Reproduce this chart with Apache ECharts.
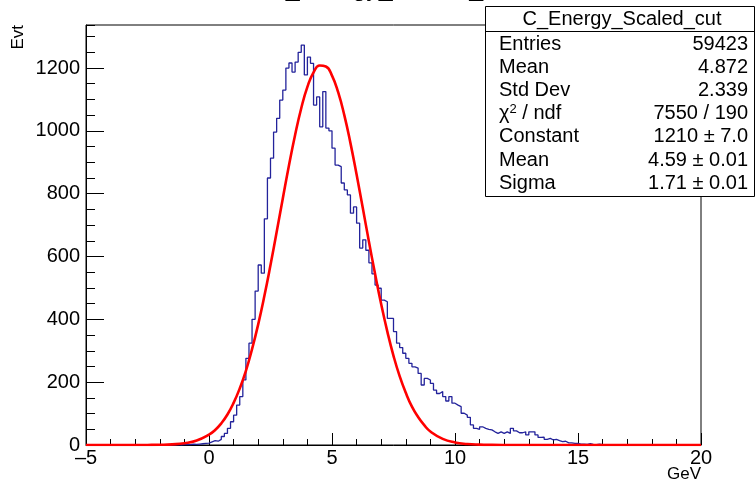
<!DOCTYPE html>
<html><head><meta charset="utf-8">
<script src="https://cdn.jsdelivr.net/npm/echarts@6/dist/echarts.min.js"></script>
<style>html,body{margin:0;padding:0;background:#fff}#c{width:756px;height:484px}</style>
</head><body><div id="c"></div>
<script>
// ---------------- data ----------------
const histTitle = 'C_Energy_Scaled_cut';
const binRange = [-5, 20];
// 200 bins, width 0.125 GeV (bin contents)
const counts = [
  0,0,0,0,0,0,0,0,0,0, 0,0,0,0,0,0,0,0,0,0,
  0,0,0,0,0,0,0,0,0,1, 0,1,2,1,3,2,3,4,5,6,
  10,14,12,18,27,37,53,74,95,127, 154,207,276,324,400,490,573,547,720,850,
  913,996,1040,1098,1130,1200,1216,1187,1219,1250, 1273,1178,1235,1215,1082,1108,1013,1125,1009,1000,
  945,891,886,834,812,796,738,758,706,627, 653,620,580,545,509,499,461,456,403,403,
  361,324,310,292,276,260,249,245,228,191, 212,207,196,175,164,170,154,140,154,133,
  127,122,101,95,88,64,53,50,58,53, 50,48,42,37,42,37,42,37,53,45,
  39,39,42,32,42,42,32,24,25,18, 21,16,18,14,11,12,7,7,5,5,
  3,3,2,4,2,1,3,1,0,1, 0,1,0,0,0,0,0,0,0,0,
  0,0,0,0,0,0,0,0,0,0, 0,0,0,0,0,0,0,0,0,0
];
// red fit curve
const fitX = [-5,-4,-3.5,-3,-2.5,-2,-1.5,-1,-0.5,0,0.25,0.5,0.75,1,1.25,1.5,1.75,2,2.25,2.5,2.75,3,3.25,3.5,3.75,4,4.25,4.5,4.75,5,5.25,5.5,5.75,6,6.25,6.5,6.75,7,7.25,7.5,7.75,8,8.25,8.5,8.75,9,9.5,10,10.5,11,11.5,12,14,17,20];
const fitY = [0,0,0.02,0.06,0.22,0.7,2.1,5.8,14.4,33,48,69,97,134,180,236,305,384,474,573,678,785,890,987,1072,1140,1186,1208,1205,1176,1123,1050,961,861,755,648,545,448,361,284,219,166,122,89,63,43,19.6,8.1,3.1,1.1,0.35,0.1,0,0,0];
const xTicks = [-5, 20, 5];      // min, max, major step
const yTicks = [0, 1337, 200, 50]; // min, max(frame top), major, minor step
const statsLabels = ['Entries','Mean','Std Dev','{a|χ}{s|2}{a| / ndf}','Constant','Mean','Sigma'];
const statsValues = ['59423','4.872','2.339','7550 / 190','1210 ± 7.0','4.59 ± 0.01','1.71 ± 0.01'];
const axisNames = ['GeV', 'Evt'];

// ---------------- chart ----------------
const FF = '"Liberation Sans", Arial, Helvetica, sans-serif';
const bw = (binRange[1] - binRange[0]) / counts.length;
const histData = counts.map((v, i) => [binRange[0] + i * bw, v]);
histData.push([binRange[1], counts[counts.length - 1]]);
const fitData = fitX.map((x, i) => [x, fitY[i]]);

const chart = echarts.init(document.getElementById('c'), null, {renderer: 'canvas'});
const statsGraphics = [];
statsGraphics.push({type:'rect', z:100, shape:{x:485.5, y:6.5, width:269, height:190},
  style:{fill:'#fff', stroke:'#000', lineWidth:1}});
statsGraphics.push({type:'line', z:101, shape:{x1:485.5, y1:31.5, x2:754.5, y2:31.5},
  style:{stroke:'#000', lineWidth:1}});
statsGraphics.push({type:'text', z:101, x:622, y:19, style:{text:histTitle, font:'20px '+FF,
  fill:'#000', align:'center', verticalAlign:'middle'}});
statsLabels.forEach((t, i) => {
  const y = 44 + i * 23.2;
  statsGraphics.push({type:'text', z:101, x:499, y:y, style:{text:t, font:'20px '+FF, fill:'#000',
    align:'left', verticalAlign:'middle',
    rich:{a:{fontSize:20, fontFamily:FF, fill:'#000', lineHeight:22},
          s:{fontSize:13, fontFamily:FF, fill:'#000', verticalAlign:'top', lineHeight:22}}}});
  statsGraphics.push({type:'text', z:101, x:748, y:y, style:{text:statsValues[i], font:'20px '+FF,
    fill:'#000', align:'right', verticalAlign:'middle'}});
});

chart.setOption({
  animation: false,
  backgroundColor: '#fff',
  grid: {left: 86, right: 55, top: 25, bottom: 39, show: true, borderColor: '#000', borderWidth: 1, backgroundColor: 'transparent'},
  xAxis: {
    type: 'value', min: xTicks[0], max: xTicks[1], interval: xTicks[2],
    axisLine: {show: true, onZero: false, lineStyle: {color: '#000', width: 1}},
    axisTick: {show: true, inside: true, length: 12, lineStyle: {color: '#000'}},
    minorTick: {show: true, splitNumber: 5, length: 6, lineStyle: {color: '#000'}},
    axisLabel: {color: '#000', fontSize: 20, fontFamily: FF, margin: 3,
      formatter: v => (v < 0 ? '\u2013' + Math.abs(v) : String(v))},
    splitLine: {show: false}
  },
  yAxis: [{
    type: 'value', min: yTicks[0], max: yTicks[1], interval: yTicks[2],
    axisLine: {show: true, onZero: false, lineStyle: {color: '#000', width: 1}},
    axisTick: {show: true, inside: true, length: 18, lineStyle: {color: '#000'}},
    axisLabel: {color: '#000', fontSize: 20, fontFamily: FF, margin: 6, showMaxLabel: false,
      formatter: v => String(v)},
    splitLine: {show: false}
  }, {
    type: 'value', min: yTicks[0], max: yTicks[1], interval: yTicks[3], position: 'left',
    axisLine: {show: false, onZero: false},
    axisTick: {show: true, inside: true, length: 9, lineStyle: {color: '#000'}},
    axisLabel: {show: false},
    splitLine: {show: false}
  }],
  series: [{
    type: 'line', data: histData, step: 'end', symbol: 'none', yAxisIndex: 0,
    lineStyle: {color: '#23239b', width: 1.3}, z: 2
  }, {
    type: 'line', data: fitData, smooth: true, symbol: 'none', yAxisIndex: 0,
    lineStyle: {color: '#ff0000', width: 2.6}, z: 3
  }],
  graphic: [
    {type:'text', z:50, x:392, y:-11, style:{text:histTitle, font:'25px '+FF, fill:'#000', align:'center', verticalAlign:'middle'}},
    {type:'text', z:50, x:701, y:474, style:{text:axisNames[0], font:'17px '+FF, fill:'#000', align:'right', verticalAlign:'middle'}},
    {type:'text', z:50, x:18, y:25, rotation: Math.PI/2, style:{text:axisNames[1], font:'17px '+FF, fill:'#000', align:'right', verticalAlign:'middle'}}
  ].concat(statsGraphics)
});
</script>
</body></html>
